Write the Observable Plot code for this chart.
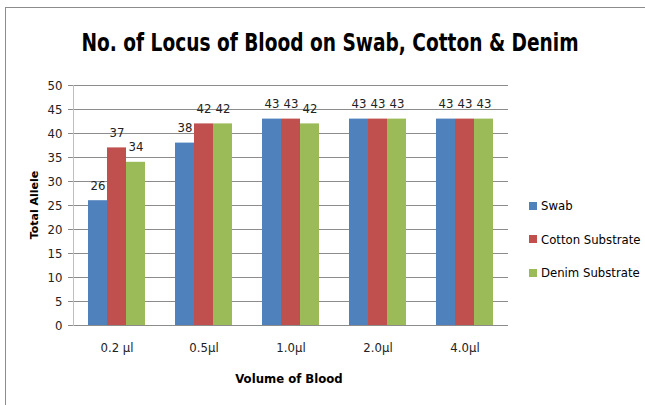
<!DOCTYPE html>
<html>
<head>
<meta charset="utf-8">
<script src="https://cdn.jsdelivr.net/npm/d3@7"></script>
<script src="https://cdn.jsdelivr.net/npm/@observablehq/plot@0.6"></script>
<style>
  html, body { margin: 0; padding: 0; background: #fff; }
  #wrap { position: relative; width: 645px; height: 405px; overflow: hidden; font-family: "DejaVu Sans Condensed", "DejaVu Sans", sans-serif; font-stretch: condensed; }
  #border { position: absolute; left: 5px; top: 7px; width: 660px; height: 420px; border: 1px solid #8c8c8c; }
  #title { position: absolute; left: 0; width: 660px; top: 29px; text-align: center; font-size: 24px; font-weight: bold; color: #000; white-space: nowrap; transform: scaleX(0.86); transform-origin: 330px 0; }
  #chart { position: absolute; left: 0; top: 0; }
  #ylabel { position: absolute; left: 34px; top: 205px; transform: translate(-50%, -50%) rotate(-90deg); font-family: "DejaVu Sans", sans-serif; font-stretch: normal; font-weight: bold; font-size: 11px; white-space: nowrap; }
  #xlabel { position: absolute; left: 289px; top: 371px; transform: translateX(-50%); font-weight: bold; font-size: 13px; white-space: nowrap; }
  #legend { position: absolute; left: 529px; top: 189px; font-size: 13px; white-space: nowrap; }
  .item { display: flex; align-items: center; height: 33.5px; }
  .sw { width: 8px; height: 8px; margin-right: 4px; }
</style>
</head>
<body>
<div id="wrap">
  <div id="border"></div>
  <div id="title">No. of Locus of Blood on Swab, Cotton &amp; Denim</div>
  <div id="chart"></div>
  <div id="ylabel">Total Allele</div>
  <div id="xlabel">Volume of Blood</div>
  <div id="legend"></div>
</div>
<script>
const categories = ["0.2 µl", "0.5µl", "1.0µl", "2.0µl", "4.0µl"];
const seriesNames = ["Swab", "Cotton Substrate", "Denim Substrate"];
const swab = [26, 38, 43, 43, 43];
const cotton = [37, 42, 43, 43, 43];
const denim = [34, 42, 42, 43, 43];
const colors = ["#4F81BD", "#C0504D", "#9BBB59"];
const yTicks = [0, 5, 10, 15, 20, 25, 30, 35, 40, 45, 50];

const seriesValues = [swab, cotton, denim];
const data = [];
categories.forEach((c, i) => {
  seriesNames.forEach((s, j) => data.push({cat: c, series: s, value: seriesValues[j][i]}));
});

const font = '"DejaVu Sans Condensed", "DejaVu Sans", sans-serif';

const chart = Plot.plot({
  width: 645,
  height: 405,
  marginLeft: 71,
  marginRight: 135,
  marginTop: 85,
  marginBottom: 80,
  style: {fontFamily: font, fontStretch: "condensed", fontSize: "13px", background: "transparent", overflow: "visible"},
  fx: {domain: categories, padding: 0, label: null},
  x: {domain: seriesNames, padding: 0, paddingOuter: 0.7, axis: null},
  y: {domain: [0, 50], ticks: yTicks, label: null},
  color: {domain: seriesNames, range: colors},
  marks: [
    Plot.gridY(yTicks, {stroke: "#8c8c8c", strokeOpacity: 1}),
    Plot.axisY(yTicks, {tickSize: 5, tickPadding: 6, stroke: "#8c8c8c", fill: "#222", label: null, fontSize: 13}),
    Plot.frame({anchor: "left", facetAnchor: "left", stroke: "#bfbfbf"}),
    Plot.axisFx({anchor: "bottom", tickSize: 0, tickPadding: 17, label: null, fill: "#222", fontSize: 13}),
    Plot.barY(data, {fx: "cat", x: "series", y: "value", fill: "series", insetLeft: 0, insetRight: 0}),
    Plot.text(data, {fx: "cat", x: "series", y: "value", text: "value", dy: -15, fontSize: 13, fill: "#222"})
  ]
});
document.getElementById("chart").appendChild(chart);

const legend = document.getElementById("legend");
seriesNames.forEach((s, j) => {
  const it = document.createElement("div");
  it.className = "item";
  const sw = document.createElement("span");
  sw.className = "sw";
  sw.style.background = colors[j];
  const t = document.createElement("span");
  t.textContent = s;
  it.appendChild(sw); it.appendChild(t);
  legend.appendChild(it);
});
</script>
</body>
</html>
